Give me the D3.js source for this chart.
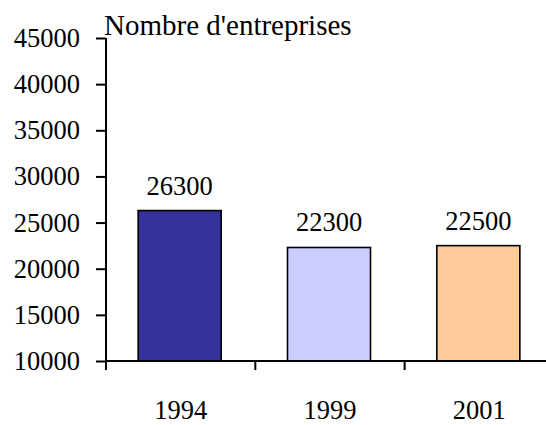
<!DOCTYPE html>
<html>
<head>
<meta charset="utf-8">
<script src="https://cdn.jsdelivr.net/npm/d3@7"></script>
<style>
  body { margin: 0; background: #fff; }
  svg text { font-family: "Liberation Serif", "DejaVu Serif", serif; fill: #000; }
</style>
</head>
<body>
<div id="chart"></div>
<script>
const years = ["1994", "1999", "2001"];
const entreprises = [26300, 22300, 22500];
const barColors = ["#333399", "#ccccff", "#ffcc99"];
const yTicks = [10000, 15000, 20000, 25000, 30000, 35000, 40000, 45000];

const FONT = "'Liberation Serif', 'DejaVu Serif', serif";
const W = 546, H = 425;
const svg = d3.select("#chart").append("svg")
    .attr("width", W)
    .attr("height", H)
    .style("font-family", FONT);

const x = d3.scaleBand()
    .domain(years)
    .range([106, 554])
    .paddingInner(0)
    .paddingOuter(0);

const y = d3.scaleLinear()
    .domain([10000, 45000])
    .range([361, 38]);

// barres
const barW = 83;
svg.selectAll(".bar")
    .data(entreprises)
    .enter()
    .append("rect")
    .attr("class", "bar")
    .attr("x", (d, i) => x(years[i]) + x.bandwidth() / 2 - barW / 2 - 1)
    .attr("y", d => y(d))
    .attr("width", barW)
    .attr("height", d => y(10000) - y(d))
    .attr("fill", (d, i) => barColors[i])
    .attr("stroke", "#000")
    .attr("stroke-width", 1.6);

// étiquettes de valeurs
svg.selectAll(".label")
    .data(entreprises)
    .enter()
    .append("text")
    .attr("class", "label")
    .attr("x", (d, i) => x(years[i]) + x.bandwidth() / 2 - 1)
    .attr("y", d => y(d) - 16)
    .attr("text-anchor", "middle")
    .style("font-family", FONT)
    .style("font-size", "26.5px")
    .text(d => d);

// axe Y
const yAxis = svg.append("g")
    .attr("transform", "translate(106,0)")
    .call(d3.axisLeft(y).tickValues(yTicks).tickSize(10).tickPadding(16).tickFormat(d3.format("d")));

// axe X
const xAxis = svg.append("g")
    .attr("transform", "translate(0,361)")
    .call(d3.axisBottom(x).tickSize(0).tickPadding(39));

// graduations entre catégories
svg.selectAll(".xtick")
    .data(years)
    .enter()
    .append("line")
    .attr("class", "xtick")
    .attr("x1", d => x(d))
    .attr("x2", d => x(d))
    .attr("y1", 361)
    .attr("y2", 370)
    .attr("stroke", "#000")
    .attr("stroke-width", 2);

[yAxis, xAxis].forEach(g => {
    g.attr("font-family", null);
    g.select(".domain").attr("stroke", "#000").attr("stroke-width", 2);
    g.selectAll(".tick line").attr("stroke", "#000").attr("stroke-width", 2);
    g.selectAll(".tick text")
        .style("font-family", FONT)
        .style("font-size", "26.5px")
        .attr("fill", "#000");
});
yAxis.select(".domain").attr("d", "M0,38V361");
xAxis.select(".domain").attr("d", "M106,0H546");

// titre de l'axe
svg.append("text")
    .attr("x", 104)
    .attr("y", 35)
    .style("font-family", FONT)
    .style("font-size", "29px")
    .text("Nombre d'entreprises");
</script>
</body>
</html>
